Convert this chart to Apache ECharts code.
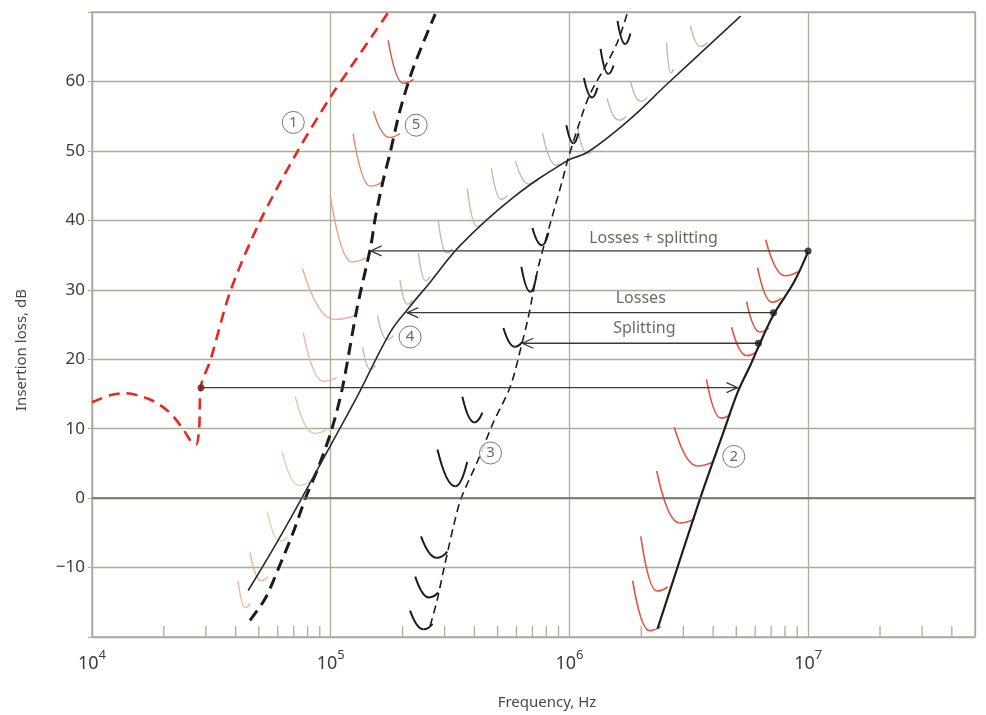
<!DOCTYPE html>
<html>
<head>
<meta charset="utf-8">
<script src="https://cdn.jsdelivr.net/npm/echarts@6/dist/echarts.min.js"></script>
<style>
html, body { margin: 0; padding: 0; background: #fff; }
#chart { width: 986px; height: 715px; }
</style>
</head>
<body>
<div id="chart"></div>
<script>
// curves: [frequency Hz, insertion loss dB]
var curve1 = [[1.00e4, 13.8], [1.19e4, 14.8], [1.37e4, 15.1], [1.75e4, 14.2], [2.12e4, 12.3], [2.41e4, 9.9],
    [2.62e4, 8.0], [2.73e4, 7.7], [2.81e4, 9.9], [2.86e4, 16.1], [3.13e4, 19.8], [3.79e4, 29.7], [5.06e4, 39.9],
    [7.31e4, 50.1], [9.95e4, 57.7], [1.21e5, 62.0], [1.74e5, 69.9]];
var curve5 = [[4.59e4, -17.6], [5.31e4, -14.5], [6.03e4, -10.2], [6.97e4, -4.9], [7.82e4, -0.1], [8.87e4, 4.4],
    [1.01e5, 9.9], [1.12e5, 15.9], [1.29e5, 27.4], [1.47e5, 36.2], [1.54e5, 40.5], [1.66e5, 45.8], [1.77e5, 49.6],
    [1.95e5, 55.8], [2.22e5, 62.0], [2.74e5, 69.7]];
var curve4 = [[4.51e4, -13.3], [5.97e4, -6.3], [7.82e4, 0.9], [9.95e4, 7.5], [1.29e5, 14.6], [1.77e5, 23.8],
    [2.09e5, 27.1], [2.61e5, 31.1], [3.49e5, 36.4], [5.82e5, 43.3], [9.82e5, 48.6], [1.19e6, 49.8], [1.77e6, 54.4],
    [2.58e6, 59.7], [5.21e6, 69.4]];
var curve3 = [[2.61e5, -18.4], [2.80e5, -14.5], [2.96e5, -10.6], [3.11e5, -7.3], [3.27e5, -4.0], [3.52e5, 0.0],
    [4.11e5, 5.2], [4.80e5, 10.9], [5.66e5, 16.1], [6.35e5, 22.5], [6.73e5, 26.1], [7.41e5, 33.3], [8.32e5, 39.6],
    [9.35e5, 45.8], [9.82e5, 48.6], [1.11e6, 54.4], [1.22e6, 58.2], [1.42e6, 62.3], [1.60e6, 65.9], [1.75e6, 69.9]];
var curve2 = [[2.34e6, -18.8], [3.54e6, 0.1], [4.43e6, 9.6], [5.06e6, 15.2], [5.74e6, 19.2], [6.19e6, 21.8],
    [7.16e6, 26.4], [8.69e6, 31.0], [1.00e7, 35.5]];

// little hooks along the curves: [start f, start dB, end f, end dB (, bottom dB)]
var redHooks = [[6.64e6, 37.2, 9.04e6, 32.6], [6.14e6, 33.2, 7.74e6, 28.8], [5.52e6, 28.3, 6.83e6, 24.5],
    [4.78e6, 24.6, 6.08e6, 21.1], [3.75e6, 17.1, 4.73e6, 12.1], [2.75e6, 10.2, 3.98e6, 5.2],
    [2.32e6, 3.9, 3.34e6, -3.0], [1.99e6, -5.5, 2.58e6, -12.8], [1.84e6, -11.9, 2.41e6, -18.5]];
var pinkHooks = [[1.74e5, 65.9, 2.22e5, 60.3], [1.51e5, 55.7, 1.95e5, 52.5], [1.24e5, 52.5, 1.64e5, 45.5],
    [9.95e4, 43.6, 1.41e5, 34.6], [7.60e4, 33.1, 1.27e5, 26.3], [7.67e4, 23.8, 1.06e5, 17.4],
    [7.10e4, 14.6, 9.66e4, 9.9], [6.26e4, 6.7, 8.20e4, 2.4], [5.42e4, -1.9, 6.64e4, -5.6],
    [4.59e4, -7.8, 5.47e4, -11.3], [4.09e4, -11.9, 4.59e4, -15.2]];
var grayHooks = [[1.36e5, 21.7, 1.54e5, 19.1], [1.57e5, 26.3, 1.83e5, 23.4], [1.95e5, 31.4, 2.20e5, 28.5],
    [2.33e5, 35.3, 2.61e5, 31.9], [2.82e5, 40.0, 3.23e5, 35.9], [3.73e5, 44.6, 4.36e5, 39.7],
    [4.71e5, 47.5, 5.50e5, 43.6], [5.94e5, 48.6, 7.35e5, 45.8], [7.71e5, 52.6, 9.62e5, 48.5],
    [1.08e6, 53.5, 1.26e6, 50.2], [1.44e6, 57.5, 1.73e6, 55.0], [1.80e6, 60.1, 2.12e6, 57.7],
    [2.55e6, 65.6, 2.73e6, 61.8], [3.21e6, 68.0, 3.79e6, 65.6]];
var blackHooks = [[2.15e5, -16.2, 2.67e5, -18.1, -18.9], [2.26e5, -11.3, 2.82e5, -13.6, -14.3],
    [2.39e5, -5.5, 3.08e5, -7.7, -8.6], [2.80e5, 7.0, 3.73e5, 5.2, 1.7], [3.56e5, 14.6, 4.32e5, 12.3, 10.9],
    [5.29e5, 24.5, 6.35e5, 22.5, 21.8], [6.29e5, 33.3, 7.28e5, 32.1, 29.7], [7.00e5, 38.9, 8.17e5, 38.2, 36.4],
    [9.71e5, 53.7, 1.09e6, 52.5, 51.1], [1.15e6, 60.5, 1.31e6, 59.1, 57.7], [1.35e6, 64.7, 1.53e6, 62.3, 61.1],
    [1.59e6, 68.7, 1.80e6, 66.9, 65.4]];

// horizontal arrows
var arrowFrom = [1.00e7, 7.16e6, 6.19e6, 2.86e4];
var arrowTo = [1.47e5, 2.09e5, 6.35e5, 5.06e6];
var arrowDb = [35.6, 26.7, 22.3, 15.9];

var labelTexts = ['Losses + splitting', 'Losses', 'Splitting'];
var labelFreqs = [2.25e6, 1.99e6, 2.06e6];
var labelDb = [37.4, 28.7, 24.4];

var circleNums = ['1', '5', '4', '3', '2'];
var circleFreqs = [6.97e4, 2.28e5, 2.15e5, 4.67e5, 4.88e6];
var circleDb = [54.1, 53.7, 23.2, 6.5, 6.0];

var minorTicks = [2e4, 3e4, 4e4, 5e4, 6e4, 7e4, 8e4, 9e4, 2e5, 3e5, 4e5, 5e5, 6e5, 7e5, 8e5, 9e5,
    2e6, 3e6, 4e6, 5e6, 6e6, 7e6, 8e6, 9e6, 2e7, 3e7, 4e7];

var pinkColors = ['#d64f48', '#e2705c', '#ea8468', '#ee9c84', '#f0ad9a', '#efb6a2', '#efc1a6', '#f0c9a6',
    '#eecfa8', '#efb296', '#efb296'];

var gridColor = '#aaad97';
var textColor = '#3d3d35';
var font = 'Noto Sans';

function hookRenderer(colors, width, depth) {
    return function (params, api) {
        var s = api.coord([api.value(0), api.value(1)]);
        var e = api.coord([api.value(2), api.value(3)]);
        var by = depth == null ? api.coord([api.value(2), api.value(4)])[1] : Math.max(s[1], e[1]) + depth;
        var bx = s[0] + (e[0] - s[0]) * 0.6;
        var c = Array.isArray(colors) ? colors[params.dataIndex] : colors;
        var st = { fill: 'none', stroke: c, lineWidth: width };
        // two half parabolas meeting at the bottom point
        return {
            type: 'group',
            children: [
                { type: 'bezierCurve', shape: { x1: s[0], y1: s[1], cpx1: (s[0] + bx) / 2, cpy1: by, x2: bx, y2: by }, style: st },
                { type: 'bezierCurve', shape: { x1: bx, y1: by, cpx1: (bx + e[0]) / 2, cpy1: by, x2: e[0], y2: e[1] }, style: st }
            ]
        };
    };
}

function arrowItem(params, api) {
    var a = api.coord([api.value(0), api.value(2)]);
    var b = api.coord([api.value(1), api.value(2)]);
    var d = b[0] > a[0] ? 1 : -1;
    var st = { fill: 'none', stroke: '#3a3a32', lineWidth: 1.3 };
    return {
        type: 'group',
        children: [
            { type: 'line', shape: { x1: a[0], y1: a[1], x2: b[0], y2: b[1] }, style: st },
            { type: 'polyline', shape: { points: [[b[0] - d * 11, b[1] - 5], [b[0], b[1]], [b[0] - d * 11, b[1] + 5]] }, style: st }
        ]
    };
}

function tickItem(params, api) {
    var p = api.coord([api.value(0), -20]);
    return { type: 'line', shape: { x1: p[0], y1: p[1], x2: p[0], y2: p[1] - 11 }, style: { stroke: gridColor, lineWidth: 1.3 } };
}

function hookSeries(data, renderer, dims) {
    return {
        type: 'custom', data: data, renderItem: renderer, z: 1, silent: true,
        encode: { x: [0, 2], y: dims }
    };
}

var chart = echarts.init(document.getElementById('chart'));
var option = {
    animation: false,
    backgroundColor: '#fff',
    grid: { left: 92, right: 11, top: 12, bottom: 78, show: true, borderColor: gridColor, borderWidth: 1.3 },
    xAxis: {
        type: 'log', logBase: 10, min: 1e4, max: 5e7,
        axisLine: { show: true, lineStyle: { color: gridColor, width: 1.3 } },
        axisTick: { show: false },
        splitLine: { show: true, lineStyle: { color: gridColor, width: 1.3 } },
        axisLabel: {
            margin: 12,
            formatter: function (v) {
                var e = Math.round(Math.log10(v));
                if (Math.abs(Math.pow(10, e) - v) > v * 1e-6) return '';
                return '{b|10}{s|' + e + '}';
            },
            rich: {
                b: { fontSize: 18, fontFamily: font, color: textColor, lineHeight: 24, verticalAlign: 'bottom' },
                s: { fontSize: 13, fontFamily: font, color: textColor, lineHeight: 12, verticalAlign: 'top' }
            }
        }
    },
    yAxis: {
        type: 'value', min: -20, max: 70, interval: 10,
        axisLine: { show: true, lineStyle: { color: gridColor, width: 1.3 } },
        axisTick: { show: true, length: 4, lineStyle: { color: gridColor } },
        splitLine: { show: true, lineStyle: { color: gridColor, width: 1.3 } },
        axisLabel: {
            margin: 7, fontSize: 17, fontFamily: font, color: textColor,
            formatter: function (v) {
                if (v === -20 || v === 70) return '';
                return String(v).replace('-', '\u2212');
            }
        }
    },
    graphic: [
        { type: 'text', x: 22, y: 350, rotation: Math.PI / 2,
          style: { text: 'Insertion loss, dB', fontSize: 15, fontFamily: font, fill: '#4a4a40', align: 'center', verticalAlign: 'middle' } },
        { type: 'text', x: 547, y: 703,
          style: { text: 'Frequency, Hz', fontSize: 15, fontFamily: font, fill: '#4a4a40', align: 'center', verticalAlign: 'middle' } }
    ],
    series: [
        hookSeries(redHooks, hookRenderer('#e2533c', 1.6, 4), [1, 3]),
        hookSeries(pinkHooks, hookRenderer(pinkColors, 1.4, 4), [1, 3]),
        hookSeries(grayHooks, hookRenderer('#b9bca6', 1.4, 4), [1, 3]),
        hookSeries(blackHooks, hookRenderer('#1c1c1a', 2, null), [1, 3, 4]),
        { type: 'custom', data: minorTicks.map(function (f) { return [f]; }), renderItem: tickItem, silent: true, encode: { x: 0 } },
        { type: 'line', data: curve1, smooth: 0.3, showSymbol: false, z: 3,
          lineStyle: { color: '#e8261e', width: 2.6, type: [11, 7] } },
        { type: 'line', data: curve5, smooth: 0.3, showSymbol: false, z: 3,
          lineStyle: { color: '#1c1c1c', width: 3, type: [12, 7] } },
        { type: 'line', data: curve4, smooth: 0.4, showSymbol: false, z: 3,
          lineStyle: { color: '#2b2b25', width: 1.6 } },
        { type: 'line', data: curve3, smooth: 0.3, showSymbol: false, z: 3,
          lineStyle: { color: '#1c1c1c', width: 1.6, type: [8, 5] } },
        { type: 'line', data: curve2, smooth: 0.35, showSymbol: false, z: 3,
          lineStyle: { color: '#1f1f1a', width: 2.2 },
          markLine: { silent: true, symbol: 'none', label: { show: false },
                      lineStyle: { color: '#6a6d58', width: 1.6, type: 'solid' }, data: [{ yAxis: 0 }] } },
        { type: 'custom', renderItem: arrowItem, silent: true, z: 4, encode: { x: [0, 1], y: 2 },
          data: arrowFrom.map(function (f, i) { return [f, arrowTo[i], arrowDb[i]]; }) },
        { type: 'scatter', symbolSize: 7, z: 5, silent: true,
          data: arrowFrom.map(function (f, i) {
              return { value: [f, arrowDb[i]], itemStyle: { color: i === 3 ? '#5a2626' : '#1c1c1a' } };
          }) },
        { type: 'scatter', symbolSize: 1, z: 5, silent: true, itemStyle: { color: 'transparent' },
          label: { show: true, position: 'inside', formatter: '{b}', fontSize: 16, fontFamily: font, color: '#45453c' },
          data: labelTexts.map(function (t, i) { return { name: t, value: [labelFreqs[i], labelDb[i]] }; }) },
        { type: 'scatter', symbol: 'circle', symbolSize: 22, z: 5, silent: true,
          itemStyle: { color: '#fff', borderColor: '#5a5a50', borderWidth: 1 },
          label: { show: true, position: 'inside', formatter: '{b}', fontSize: 15, fontFamily: font, color: '#45453c' },
          data: circleNums.map(function (t, i) { return { name: t, value: [circleFreqs[i], circleDb[i]] }; }) }
    ]
};
chart.setOption(option);
</script>
</body>
</html>
